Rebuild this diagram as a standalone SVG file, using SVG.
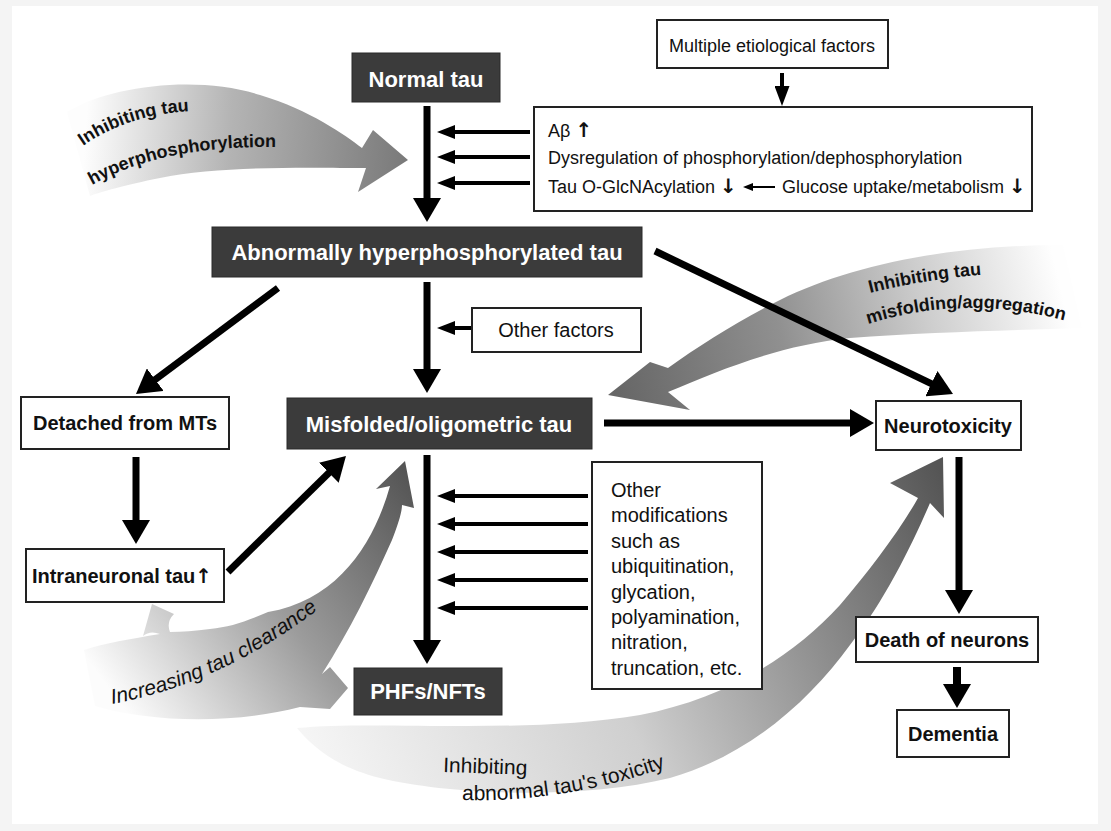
<svg xmlns="http://www.w3.org/2000/svg" width="1111" height="831" viewBox="0 0 1111 831">
<style>
.dark{fill:#3b3b3b;stroke:#2a2a2a;stroke-width:1}
.wbox{fill:#fff;stroke:#222;stroke-width:2}
.lw{font-family:"Liberation Sans",Arial,sans-serif;font-weight:bold;font-size:22px;fill:#fff;text-anchor:middle}
.lb{font-family:"Liberation Sans",Arial,sans-serif;font-weight:bold;font-size:20px;fill:#111;text-anchor:middle}
.t{font-family:"Liberation Sans",Arial,sans-serif;font-size:18px;fill:#111}
.t20{font-family:"Liberation Sans",Arial,sans-serif;font-size:20px;fill:#111}
.sw{font-family:"Liberation Sans",Arial,sans-serif;font-size:18px;font-weight:bold;fill:#111}
.swn{font-family:"Liberation Sans",Arial,sans-serif;font-size:21px;fill:#111}
.ar{font-family:"DejaVu Sans",sans-serif;font-weight:bold;font-size:20px}
.big{stroke:#000;stroke-width:7;fill:none;marker-end:url(#hb)}
.sm{stroke:#000;stroke-width:4;fill:none;marker-end:url(#hs)}
</style>
<defs>
<marker id="hb" markerUnits="userSpaceOnUse" viewBox="0 0 24 28" markerWidth="24" markerHeight="28" refX="12" refY="14" orient="auto"><path d="M0,0 L24,14 L0,28 Z" fill="#000"/></marker>
<marker id="hs" markerUnits="userSpaceOnUse" viewBox="0 0 18 14" markerWidth="18" markerHeight="14" refX="9" refY="7" orient="auto"><path d="M0,0 L18,7 L0,14 Z" fill="#000"/></marker>
<marker id="hm" markerUnits="userSpaceOnUse" viewBox="0 0 20 15" markerWidth="20" markerHeight="15" refX="10" refY="7.5" orient="auto"><path d="M0,0 L20,7.5 L0,15 Z" fill="#000"/></marker>
<marker id="ht" markerUnits="userSpaceOnUse" viewBox="0 0 10 8" markerWidth="10" markerHeight="8" refX="5" refY="4" orient="auto"><path d="M0,0 L10,4 L0,8 Z" fill="#000"/></marker>
<linearGradient id="g1" gradientUnits="userSpaceOnUse" x1="85" y1="140" x2="405" y2="160"><stop offset="0" stop-color="#fdfdfd"/><stop offset="0.45" stop-color="#b4b4b4"/><stop offset="1" stop-color="#7a7a7a"/></linearGradient>
<linearGradient id="g2" gradientUnits="userSpaceOnUse" x1="1060" y1="285" x2="615" y2="390"><stop offset="0" stop-color="#fefefe"/><stop offset="0.3" stop-color="#cdcdcd"/><stop offset="0.62" stop-color="#909090"/><stop offset="1" stop-color="#666"/></linearGradient>
<linearGradient id="g3" gradientUnits="userSpaceOnUse" x1="110" y1="690" x2="405" y2="470"><stop offset="0" stop-color="#fcfcfc"/><stop offset="0.5" stop-color="#9c9c9c"/><stop offset="1" stop-color="#555"/></linearGradient>
<linearGradient id="g4" gradientUnits="userSpaceOnUse" x1="300" y1="760" x2="940" y2="470"><stop offset="0" stop-color="#f7f7f7"/><stop offset="0.45" stop-color="#cfcfcf"/><stop offset="0.75" stop-color="#8c8c8c"/><stop offset="1" stop-color="#555"/></linearGradient>
<path id="t1a" d="M83,146 Q135,110 206,111"/>
<path id="t1b" d="M92,185 Q170,141 300,148"/>
<path id="t2a" d="M870,293 Q930,278 992,274"/>
<path id="t2b" d="M868,324 Q975,290 1090,328"/>
<path id="t3" d="M112,704 Q232,682 340,592"/>
<path id="t4a" d="M443,772 L530,775"/>
<path id="t4b" d="M462,800 Q565,803 670,766"/>
</defs>
<rect x="0" y="0" width="1111" height="831" fill="#f4f4f4"/>
<rect x="12" y="6" width="1086" height="818" fill="#fff"/>

<g id="swooshes">
<g id="sw-hyperphos">
<path d="M67,112 C110,85 200,75 260,95 C310,110 345,135 362,148 L373,130 L408,160 L358,192 L366,168 C320,168 220,165 160,178 C125,185 100,192 90,196 Z" fill="url(#g1)"/>
<text class="sw"><textPath href="#t1a">Inhibiting tau</textPath></text>
<text class="sw"><textPath href="#t1b">hyperphosphorylation</textPath></text>
</g>
<g id="sw-misfold">
<path d="M1063,245 C950,245 850,265 780,300 C740,320 700,345 668,368 L650,362 L608,395 L690,410 L668,392 C720,370 780,345 850,338 C930,332 1020,330 1082,328 Z" fill="url(#g2)"/>
<text class="sw"><textPath href="#t2a">Inhibiting tau</textPath></text>
<text class="sw"><textPath href="#t2b">misfolding/aggregation</textPath></text>
</g>
<g id="sw-clearance">
<path d="M95,706 C150,722 230,725 300,707 L330,709 L348,688 L330,667 L322,674 C350,630 372,585 392,540 C398,525 402,512 402,505 L414,508 L405,461 L376,489 L390,486 C375,540 340,600 268,612 C245,622 230,627 210,629 C195,631 182,632 170,632 Q166,622 174,614 L152,604 L143,636 Q150,630 160,634 C130,639 105,643 84,650 Z" fill="url(#g3)"/>
<text class="swn" font-style="italic" font-size="23"><textPath href="#t3">Increasing tau clearance</textPath></text>
</g>
<g id="sw-toxicity">
<path d="M297,728 C380,720 520,735 640,715 C720,700 790,660 840,605 C870,570 900,530 918,498 L890,483 L943,457 L944,518 L930,503 C912,545 885,600 850,645 C810,700 750,755 670,778 C580,800 450,795 380,778 C340,768 315,750 297,728 Z" fill="url(#g4)"/>
<text class="swn"><textPath href="#t4a">Inhibiting</textPath></text>
<text class="swn"><textPath href="#t4b">abnormal tau's toxicity</textPath></text>
</g>
</g>

<g id="connectors">
<line class="big" x1="427" y1="106" x2="427" y2="210"/>
<line class="sm" x1="530" y1="132" x2="446" y2="132"/>
<line class="sm" x1="530" y1="157" x2="446" y2="157"/>
<line class="sm" x1="530" y1="183" x2="446" y2="183"/>
<line x1="782" y1="73" x2="782" y2="96" stroke="#000" stroke-width="4" marker-end="url(#hm)"/>
<line class="big" x1="427" y1="282" x2="427" y2="381"/>
<line class="sm" x1="472" y1="328" x2="446" y2="328"/>
<line class="big" x1="278" y1="288" x2="145.6" y2="386.8"/>
<line class="big" x1="655" y1="251" x2="942.2" y2="388.8"/>
<line class="big" x1="604" y1="423" x2="862" y2="423"/>
<line class="big" x1="136" y1="457" x2="136" y2="532"/>
<line class="big" x1="228" y1="572" x2="337.4" y2="464.4"/>
<line class="big" x1="427" y1="455" x2="427" y2="652"/>
<line class="sm" x1="588" y1="496" x2="446" y2="496"/>
<line class="sm" x1="588" y1="524" x2="446" y2="524"/>
<line class="sm" x1="588" y1="552" x2="446" y2="552"/>
<line class="sm" x1="588" y1="580" x2="446" y2="580"/>
<line class="sm" x1="588" y1="608" x2="446" y2="608"/>
<line class="big" x1="959" y1="457" x2="959" y2="602"/>
<line x1="957" y1="667" x2="957" y2="696" stroke="#000" stroke-width="8" marker-end="url(#hb)"/>
</g>

<g id="n-multiple">
<rect class="wbox" x="657" y="20" width="231" height="48"/>
<text class="t" x="772" y="52" text-anchor="middle">Multiple etiological factors</text>
</g>
<g id="n-factors">
<rect class="wbox" x="534" y="107" width="498" height="104"/>
<text class="t" x="548" y="137">Aβ <tspan class="ar">↑</tspan></text>
<text class="t" x="548" y="164">Dysregulation of phosphorylation/dephosphorylation</text>
<text class="t" x="548" y="193">Tau O-GlcNAcylation <tspan class="ar">↓</tspan></text>
<text class="t" x="782" y="193">Glucose uptake/metabolism <tspan class="ar">↓</tspan></text>
<line x1="775" y1="187" x2="748" y2="187" stroke="#000" stroke-width="2" marker-end="url(#ht)"/>
</g>
<g id="n-normal">
<rect class="dark" x="352" y="53" width="148" height="49"/>
<text class="lw" x="426" y="87">Normal tau</text>
</g>
<g id="n-abnormal">
<rect class="dark" x="212" y="227" width="430" height="50"/>
<text class="lw" x="427" y="260">Abnormally hyperphosphorylated tau</text>
</g>
<g id="n-other-factors">
<rect class="wbox" x="472" y="308" width="169" height="44"/>
<text class="t20" x="556" y="337" text-anchor="middle">Other factors</text>
</g>
<g id="n-detached">
<rect class="wbox" x="21" y="397" width="208" height="52"/>
<text class="lb" x="125" y="430">Detached from MTs</text>
</g>
<g id="n-misfolded">
<rect class="dark" x="287" y="398" width="305" height="51"/>
<text class="lw" x="439" y="432">Misfolded/oligometric tau</text>
</g>
<g id="n-neurotox">
<rect class="wbox" x="876" y="401" width="145" height="49"/>
<text class="lb" x="948" y="433">Neurotoxicity</text>
</g>
<g id="n-intraneuronal">
<rect class="wbox" x="26" y="549" width="198" height="53"/>
<text class="lb" x="122" y="583">Intraneuronal tau<tspan class="ar">↑</tspan></text>
</g>
<g id="n-othermods">
<rect class="wbox" x="592" y="462" width="170" height="227"/>
<text class="t20" x="611" y="497">Other</text>
<text class="t20" x="611" y="522.4">modifications</text>
<text class="t20" x="611" y="547.8">such as</text>
<text class="t20" x="611" y="573.2">ubiquitination,</text>
<text class="t20" x="611" y="598.6">glycation,</text>
<text class="t20" x="611" y="624">polyamination,</text>
<text class="t20" x="611" y="649.4">nitration,</text>
<text class="t20" x="611" y="674.8">truncation, etc.</text>
</g>
<g id="n-phfs">
<rect class="dark" x="354" y="668" width="148" height="47"/>
<text class="lw" x="428" y="699">PHFs/NFTs</text>
</g>
<g id="n-death">
<rect class="wbox" x="856" y="617" width="182" height="45"/>
<text class="lb" x="947" y="647">Death of neurons</text>
</g>
<g id="n-dementia">
<rect class="wbox" x="897" y="710" width="112" height="47"/>
<text class="lb" x="953" y="741">Dementia</text>
</g>
</svg>
